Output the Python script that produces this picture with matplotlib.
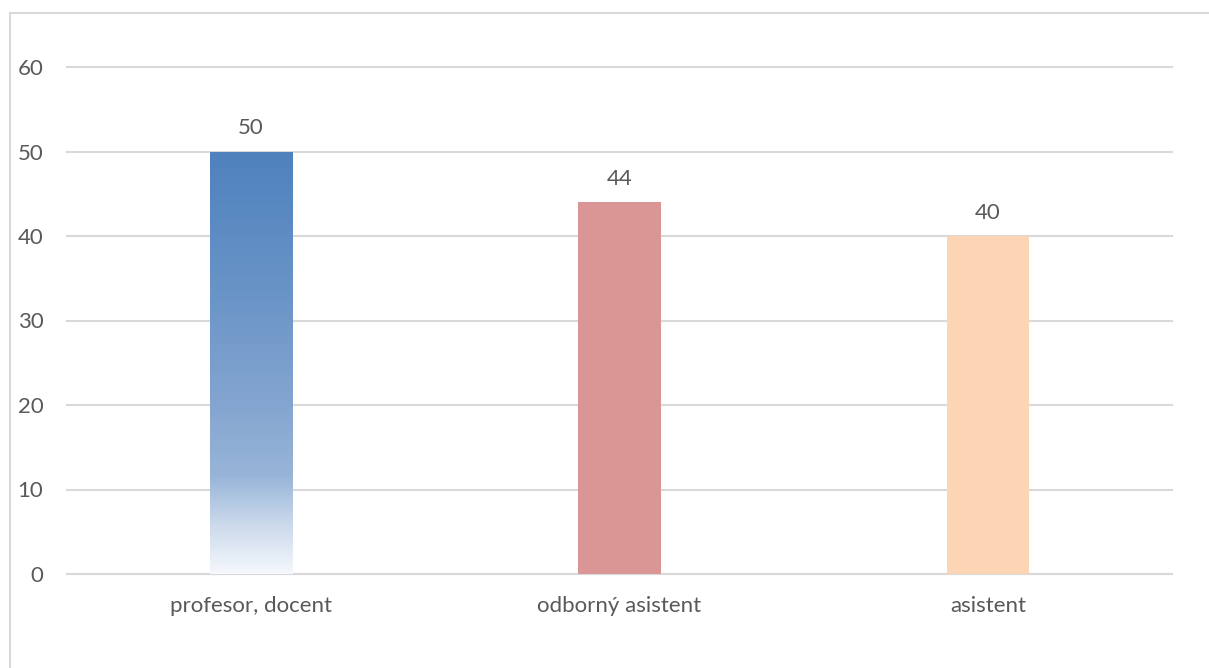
import matplotlib
matplotlib.use("Agg")
import matplotlib.pyplot as plt
import numpy as np
from matplotlib.colors import LinearSegmentedColormap
from matplotlib.patches import Rectangle

categories = ["profesor, docent", "odborný asistent", "asistent"]
values = [50, 44, 40]
yticks = [0, 10, 20, 30, 40, 50, 60]

plt.rcParams['font.family'] = ['Lato', 'DejaVu Sans']
txt = '#595959'

fig = plt.figure(figsize=(12.09, 6.68), dpi=100)
ax = fig.add_axes([67/1209, 1-574/668, (1172-67)/1209, (574-67)/668])

# figure border (left/top visible)
fig.patches.append(Rectangle((10/1209, -0.01), 1.2, 1 - 13/668 + 0.01, transform=fig.transFigure,
                             fill=False, edgecolor='#D9D9D9', linewidth=1.5))

width = 0.223
x = np.arange(len(categories))
colors = [None, '#D99694', '#FCD5B5']
bars = ax.bar(x, values, width=width, color=['none', colors[1], colors[2]], zorder=3)

# gradient for first bar
cmap = LinearSegmentedColormap.from_list('g', [(0.0, '#F5F8FC'), (0.12, '#C9D8EB'), (0.23, '#98B5D8'), (0.4, '#84A5D0'), (0.7, '#6692C6'), (1.0, '#4F81BD')])
b = bars[0]
grad = np.linspace(0, 1, 256).reshape(-1, 1)
im = ax.imshow(grad, cmap=cmap, aspect='auto', origin='lower',
               extent=[b.get_x(), b.get_x() + b.get_width(), 0, values[0]], zorder=3)
im.set_clip_path(b)

for xi, v in zip(x, values):
    ax.annotate(str(v), (xi, v), xytext=(0, 12.5), textcoords='offset points',
                ha='center', va='baseline', fontsize=16, color=txt)

ax.set_xlim(-0.5, 2.5)
ax.set_ylim(0, 60)
ax.set_yticks(yticks)
ax.set_xticks(x)
ax.set_xticklabels(categories)
ax.tick_params(axis='both', length=0, labelsize=16, labelcolor=txt)
ax.tick_params(axis='y', pad=17)
ax.tick_params(axis='x', pad=16)
ax.grid(axis='y', color='#D9D9D9', linewidth=1.5, zorder=0)
for gl in ax.get_ygridlines():
    gl.set_clip_on(False)
for s in ['left', 'right', 'top']:
    ax.spines[s].set_visible(False)
ax.spines['bottom'].set_color('#D9D9D9')
ax.spines['bottom'].set_linewidth(1.5)
ax.set_axisbelow(True)

fig.savefig('out.png', dpi=100)
